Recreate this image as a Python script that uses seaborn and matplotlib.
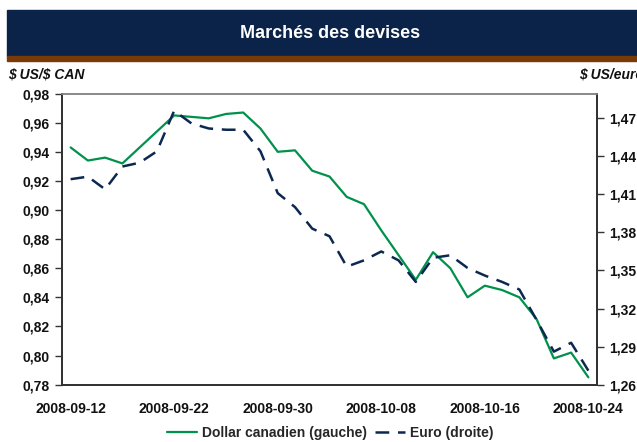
import numpy as np
import pandas as pd
import matplotlib
matplotlib.use("Agg")
import matplotlib.pyplot as plt
from matplotlib.patches import Rectangle
from matplotlib.lines import Line2D
import seaborn as sns

# business days 2008-09-12 .. 2008-10-24
dates = pd.bdate_range("2008-09-12", "2008-10-24")
tick_labels = ["2008-09-12", "2008-09-22", "2008-09-30", "2008-10-08", "2008-10-16", "2008-10-24"]

cad = [0.943, 0.934, 0.936, 0.932, 0.943, 0.954, 0.965, 0.964, 0.963, 0.966,
       0.967, 0.956, 0.940, 0.941, 0.927, 0.923, 0.909, 0.904, 0.886, 0.869,
       0.852, 0.871, 0.860, 0.840, 0.848, 0.845, 0.840, 0.825, 0.798, 0.802,
       0.785]
eur = [1.422, 1.424, 1.414, 1.432, 1.435, 1.444, 1.476, 1.466, 1.462, 1.461,
       1.461, 1.444, 1.411, 1.400, 1.383, 1.377, 1.353, 1.358, 1.365, 1.358,
       1.341, 1.360, 1.362, 1.352, 1.346, 1.341, 1.335, 1.311, 1.286, 1.293,
       1.271]

GREEN = "#00914b"
NAVY = "#0c2850"

sns.set_style("white")
plt.rcParams["font.family"] = ["Liberation Sans", "DejaVu Sans"]

df = pd.DataFrame({"i": np.arange(len(dates)), "cad": cad, "eur": eur})

fig = plt.figure(figsize=(6.37, 4.42), dpi=100)
ax = fig.add_axes([62 / 637, 1 - 384.6 / 442, 535 / 637, 291 / 442])
ax2 = ax.twinx()

sns.lineplot(data=df, x="i", y="cad", ax=ax, color=GREEN, linewidth=1.6)
sns.lineplot(data=df, x="i", y="eur", ax=ax2, color=NAVY, linewidth=1.8)
ax2.lines[0].set_dashes((5.5, 3.5))

ax.set_xlim(-0.5, len(dates) - 0.5)
ax.set_ylim(0.78, 0.98)
ax.set_yticks(np.arange(0.78, 0.981, 0.02))
ax.set_yticklabels([f"{v:.2f}".replace(".", ",") for v in np.arange(0.78, 0.981, 0.02)])
ax2.set_ylim(1.26, 1.4895)
ax2.set_yticks(np.arange(1.26, 1.471, 0.03))
ax2.set_yticklabels([f"{v:.2f}".replace(".", ",") for v in np.arange(1.26, 1.471, 0.03)])

ax.set_xticks([dates.get_loc(pd.Timestamp(t)) for t in tick_labels])
ax.set_xticklabels(tick_labels)

for a in (ax, ax2):
    a.set_xlabel("")
    a.set_ylabel("")
    for s in a.spines.values():
        s.set_color("#333333")
        s.set_linewidth(1.4)
    a.spines["top"].set_color("#888888")
    a.spines["top"].set_linewidth(1.2)

ax.tick_params(axis="y", left=True, length=5, width=1, color="#333333", pad=4,
               labelsize=10, labelcolor="#111111")
ax.tick_params(axis="x", bottom=False, pad=9, labelsize=10, labelcolor="#111111")
ax2.tick_params(axis="y", right=True, length=5, width=1, color="#333333", pad=4,
                labelsize=10, labelcolor="#111111")
for lab in ax.get_yticklabels() + ax.get_xticklabels() + ax2.get_yticklabels():
    lab.set_fontweight("bold")

# title banner
fig.patches.append(Rectangle((7 / 637, 1 - 56 / 442), 1, 46 / 442, transform=fig.transFigure,
                             color="#0b2249", zorder=0))
fig.patches.append(Rectangle((7 / 637, 1 - 61 / 442), 1, 5 / 442, transform=fig.transFigure,
                             color="#7a3a06", zorder=0))
fig.text(330 / 637, 1 - 34 / 442, "Marchés des devises", color="white", fontsize=13,
         fontweight="bold", ha="center", va="center")
fig.text(8 / 637, 1 - 75 / 442, r"\$ US/\$ CAN", fontsize=10, fontweight="bold",
         fontstyle="italic", ha="left", va="center", color="#111111")
fig.text(579 / 637, 1 - 75 / 442, r"\$ US/euro", fontsize=10, fontweight="bold",
         fontstyle="italic", ha="left", va="center", color="#111111")

handles = [Line2D([], [], color=GREEN, linewidth=1.6),
           Line2D([], [], color=NAVY, linewidth=1.8, dashes=(5.5, 3.5))]
leg = fig.legend(handles, ["Dollar canadien (gauche)", "Euro (droite)"], loc="center",
                 bbox_to_anchor=(330 / 637, 1 - 433 / 442), ncol=2, frameon=False,
                 prop={"weight": "bold", "size": 10}, handlelength=2.2,
                 columnspacing=0.6, handletextpad=0.3)

fig.savefig("out.png", dpi=100)
